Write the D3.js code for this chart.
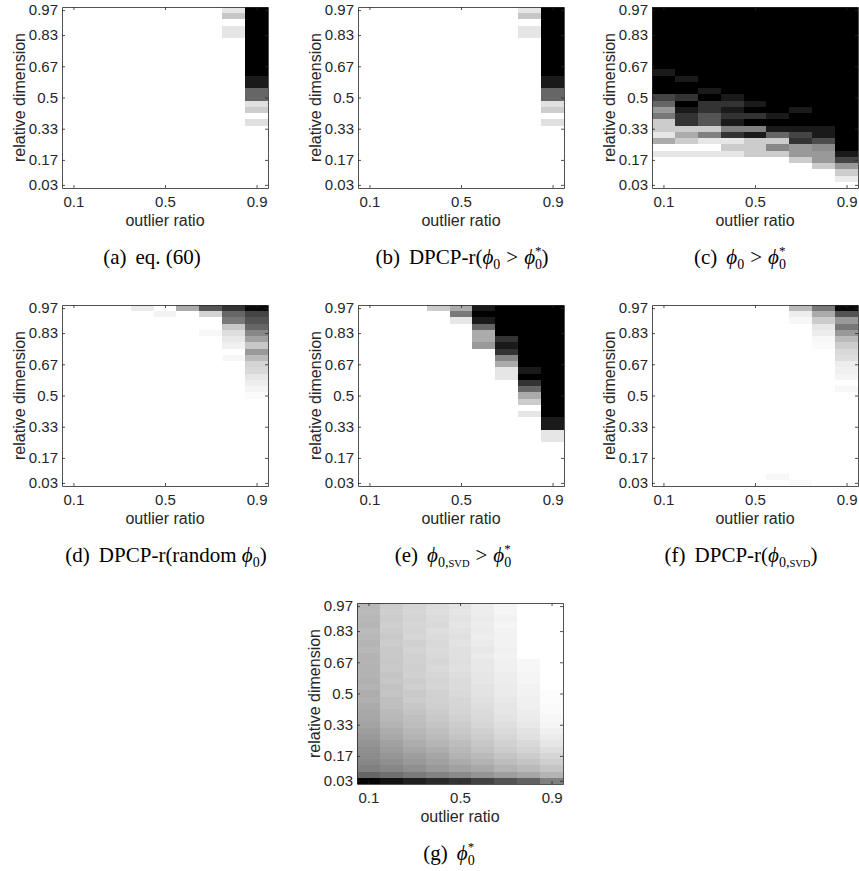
<!DOCTYPE html>
<html>
<head>
<meta charset="utf-8">
<script src="https://cdn.jsdelivr.net/npm/d3@7"></script>
<style>
  body { margin: 0; background: #fff; }
  svg { display: block; }
</style>
</head>
<body>
<div id="figure"></div>
<script>
// outlier ratio (columns) and relative dimension index d of D = 30 (rows)
const ratios = [0.1, 0.2, 0.3, 0.4, 0.5, 0.6, 0.7, 0.8, 0.9]
const dims = [1, 2, 3, 4, 5, 6, 7, 8, 9, 10, 11, 12, 13, 14, 15, 16, 17, 18, 19, 20, 21, 22, 23, 24, 25, 26, 27, 28, 29]
const xTicks = [0.1, 0.5, 0.9]
const xTickLabels = ["0.1", "0.5", "0.9"]
const yTicks = [1, 5, 10, 15, 20, 25, 29]
const yTickLabels = ["0.03", "0.17", "0.33", "0.5", "0.67", "0.83", "0.97"]

// darkness of each cell (0 white, 1 black); rows from d = 29 (top) down to d = 1
const gridA = [
  [0,0,0,0,0,0,0,0.1,1],
  [0,0,0,0,0,0,0,0.22,1],
  [0,0,0,0,0,0,0,0,1],
  [0,0,0,0,0,0,0,0.1,1],
  [0,0,0,0,0,0,0,0.1,1],
  [0,0,0,0,0,0,0,0,1],
  [0,0,0,0,0,0,0,0,1],
  [0,0,0,0,0,0,0,0,1],
  [0,0,0,0,0,0,0,0,1],
  [0,0,0,0,0,0,0,0,1],
  [0,0,0,0,0,0,0,0,1],
  [0,0,0,0,0,0,0,0,0.9],
  [0,0,0,0,0,0,0,0,0.9],
  [0,0,0,0,0,0,0,0,0.6],
  [0,0,0,0,0,0,0,0,0.6],
  [0,0,0,0,0,0,0,0,0.12],
  [0,0,0,0,0,0,0,0,0.2],
  [0,0,0,0,0,0,0,0,0],
  [0,0,0,0,0,0,0,0,0.12],
  [0,0,0,0,0,0,0,0,0],
  [0,0,0,0,0,0,0,0,0],
  [0,0,0,0,0,0,0,0,0],
  [0,0,0,0,0,0,0,0,0],
  [0,0,0,0,0,0,0,0,0],
  [0,0,0,0,0,0,0,0,0],
  [0,0,0,0,0,0,0,0,0],
  [0,0,0,0,0,0,0,0,0],
  [0,0,0,0,0,0,0,0,0],
  [0,0,0,0,0,0,0,0,0]
]

const gridB = [
  [0,0,0,0,0,0,0,0.1,1],
  [0,0,0,0,0,0,0,0.22,1],
  [0,0,0,0,0,0,0,0,1],
  [0,0,0,0,0,0,0,0.1,1],
  [0,0,0,0,0,0,0,0.1,1],
  [0,0,0,0,0,0,0,0,1],
  [0,0,0,0,0,0,0,0,1],
  [0,0,0,0,0,0,0,0,1],
  [0,0,0,0,0,0,0,0,1],
  [0,0,0,0,0,0,0,0,1],
  [0,0,0,0,0,0,0,0,1],
  [0,0,0,0,0,0,0,0,0.9],
  [0,0,0,0,0,0,0,0,0.9],
  [0,0,0,0,0,0,0,0,0.6],
  [0,0,0,0,0,0,0,0,0.6],
  [0,0,0,0,0,0,0,0,0.12],
  [0,0,0,0,0,0,0,0,0.2],
  [0,0,0,0,0,0,0,0,0],
  [0,0,0,0,0,0,0,0,0.12],
  [0,0,0,0,0,0,0,0,0],
  [0,0,0,0,0,0,0,0,0],
  [0,0,0,0,0,0,0,0,0],
  [0,0,0,0,0,0,0,0,0],
  [0,0,0,0,0,0,0,0,0],
  [0,0,0,0,0,0,0,0,0],
  [0,0,0,0,0,0,0,0,0],
  [0,0,0,0,0,0,0,0,0],
  [0,0,0,0,0,0,0,0,0],
  [0,0,0,0,0,0,0,0,0]
]

const gridC = [
  [1,1,1,1,1,1,1,1,1],
  [1,1,1,1,1,1,1,1,1],
  [1,1,1,1,1,1,1,1,1],
  [1,1,1,1,1,1,1,1,1],
  [1,1,1,1,1,1,1,1,1],
  [1,1,1,1,1,1,1,1,1],
  [1,1,1,1,1,1,1,1,1],
  [1,1,1,1,1,1,1,1,1],
  [1,1,1,1,1,1,1,1,1],
  [1,1,1,1,1,1,1,1,1],
  [0.9,1,1,1,1,1,1,1,1],
  [1,0.9,1,1,1,1,1,1,1],
  [1,1,1,1,1,1,1,1,1],
  [1,1,0.9,1,1,1,1,1,1],
  [0.73,0.8,1,0.9,1,1,1,1,1],
  [0.6,1,0.8,0.8,0.9,1,1,1,1],
  [0.4,0.9,0.8,0.9,1,1,0.9,1,1],
  [0.53,0.8,0.67,0.8,0.8,0.9,1,1,1],
  [0.2,0.8,0.67,0.9,1,1,1,1,1],
  [0.2,0.2,0.2,0.5,0.5,0.9,0.9,0.9,1],
  [0.1,0.33,0.5,0.8,0.9,0.6,0.73,0.9,1],
  [0.33,0.2,0.1,0.1,0.2,0.2,0.8,0.7,1],
  [0,0,0,0.2,0.2,0.47,0.4,0.45,1],
  [0.1,0.1,0.1,0.1,0.2,0.2,0.4,0.4,0.9],
  [0,0,0,0,0,0,0.2,0.4,0.73],
  [0,0,0,0,0,0,0,0.2,0.4],
  [0,0,0,0,0,0,0,0,0.2],
  [0,0,0,0,0,0,0,0,0.08],
  [0,0,0,0,0,0,0,0,0]
]

const gridD = [
  [0,0,0,0.08,0,0.33,0.67,0.8,0.96],
  [0,0,0,0,0.05,0,0.17,0.6,0.73],
  [0,0,0,0,0,0,0,0.53,0.67],
  [0,0,0,0,0,0,0,0.22,0.6],
  [0,0,0,0,0,0,0.03,0.13,0.47],
  [0,0,0,0,0,0,0,0.09,0.37],
  [0,0,0,0,0,0,0,0.06,0.22],
  [0,0,0,0,0,0,0,0,0.4],
  [0,0,0,0,0,0,0,0.03,0.27],
  [0,0,0,0,0,0,0,0,0.17],
  [0,0,0,0,0,0,0,0,0.15],
  [0,0,0,0,0,0,0,0,0.1],
  [0,0,0,0,0,0,0,0,0.07],
  [0,0,0,0,0,0,0,0,0.04],
  [0,0,0,0,0,0,0,0,0.02],
  [0,0,0,0,0,0,0,0,0],
  [0,0,0,0,0,0,0,0,0],
  [0,0,0,0,0,0,0,0,0],
  [0,0,0,0,0,0,0,0,0],
  [0,0,0,0,0,0,0,0,0],
  [0,0,0,0,0,0,0,0,0],
  [0,0,0,0,0,0,0,0,0],
  [0,0,0,0,0,0,0,0,0],
  [0,0,0,0,0,0,0,0,0],
  [0,0,0,0,0,0,0,0,0],
  [0,0,0,0,0,0,0,0,0],
  [0,0,0,0,0,0,0,0,0],
  [0,0,0,0,0,0,0,0,0],
  [0,0,0,0,0,0,0,0,0]
]

const gridE = [
  [0,0,0,0.2,0.33,0.9,1,1,1],
  [0,0,0,0,0.53,1,1,1,1],
  [0,0,0,0,0.1,0.9,1,1,1],
  [0,0,0,0,0,0.6,1,1,1],
  [0,0,0,0,0,0.33,1,1,1],
  [0,0,0,0,0,0.33,0.8,1,1],
  [0,0,0,0,0,0.4,0.9,1,1],
  [0,0,0,0,0,0,0.8,1,1],
  [0,0,0,0,0,0,0.47,1,1],
  [0,0,0,0,0,0,0.33,1,1],
  [0,0,0,0,0,0,0.1,0.9,1],
  [0,0,0,0,0,0,0.1,1,1],
  [0,0,0,0,0,0,0,0.8,1],
  [0,0,0,0,0,0,0,0.6,1],
  [0,0,0,0,0,0,0,0.33,1],
  [0,0,0,0,0,0,0,0.2,1],
  [0,0,0,0,0,0,0,0,1],
  [0,0,0,0,0,0,0,0.1,1],
  [0,0,0,0,0,0,0,0,0.9],
  [0,0,0,0,0,0,0,0,0.9],
  [0,0,0,0,0,0,0,0,0.1],
  [0,0,0,0,0,0,0,0,0.1],
  [0,0,0,0,0,0,0,0,0],
  [0,0,0,0,0,0,0,0,0],
  [0,0,0,0,0,0,0,0,0],
  [0,0,0,0,0,0,0,0,0],
  [0,0,0,0,0,0,0,0,0],
  [0,0,0,0,0,0,0,0,0],
  [0,0,0,0,0,0,0,0,0]
]

const gridF = [
  [0,0,0,0,0,0,0.27,0.53,0.96],
  [0,0,0,0,0,0,0.07,0.33,0.67],
  [0,0,0,0,0,0,0.03,0.2,0.4],
  [0,0,0,0,0,0,0,0.1,0.53],
  [0,0,0,0,0,0,0,0.07,0.4],
  [0,0,0,0,0,0,0,0.03,0.27],
  [0,0,0,0,0,0,0,0.02,0.2],
  [0,0,0,0,0,0,0,0,0.15],
  [0,0,0,0,0,0,0,0,0.13],
  [0,0,0,0,0,0,0,0,0.07],
  [0,0,0,0,0,0,0,0,0.06],
  [0,0,0,0,0,0,0,0,0.04],
  [0,0,0,0,0,0,0,0,0],
  [0,0,0,0,0,0,0,0,0.03],
  [0,0,0,0,0,0,0,0,0],
  [0,0,0,0,0,0,0,0,0],
  [0,0,0,0,0,0,0,0,0],
  [0,0,0,0,0,0,0,0,0],
  [0,0,0,0,0,0,0,0,0],
  [0,0,0,0,0,0,0,0,0],
  [0,0,0,0,0,0,0,0,0],
  [0,0,0,0,0,0,0,0,0],
  [0,0,0,0,0,0,0,0,0],
  [0,0,0,0,0,0,0,0,0],
  [0,0,0,0,0,0,0,0,0],
  [0,0,0,0,0,0,0,0,0],
  [0,0,0,0,0,0,0,0,0],
  [0,0,0,0,0,0.03,0,0,0],
  [0,0,0,0,0,0,0.02,0,0]
]

const gridG = [
  [0.28,0.2,0.17,0.14,0.11,0.07,0.04,0,0],
  [0.27,0.19,0.16,0.13,0.1,0.07,0.04,0,0],
  [0.28,0.2,0.17,0.14,0.11,0.08,0.05,0,0],
  [0.29,0.19,0.16,0.15,0.1,0.07,0.04,0,0],
  [0.27,0.2,0.17,0.13,0.11,0.08,0.05,0,0],
  [0.28,0.21,0.16,0.14,0.12,0.07,0.05,0,0],
  [0.29,0.2,0.18,0.15,0.11,0.08,0.05,0,0],
  [0.28,0.21,0.17,0.14,0.12,0.09,0.06,0,0],
  [0.3,0.21,0.18,0.15,0.12,0.08,0.05,0,0],
  [0.29,0.22,0.18,0.16,0.13,0.09,0.06,0.03,0],
  [0.3,0.21,0.19,0.15,0.12,0.09,0.06,0.03,0],
  [0.3,0.23,0.18,0.16,0.13,0.1,0.07,0.04,0],
  [0.31,0.22,0.2,0.17,0.14,0.1,0.07,0.04,0],
  [0.3,0.24,0.19,0.16,0.14,0.11,0.08,0.05,0],
  [0.32,0.23,0.21,0.18,0.15,0.11,0.08,0.05,0.01],
  [0.31,0.25,0.2,0.18,0.16,0.12,0.09,0.06,0.01],
  [0.33,0.25,0.22,0.19,0.16,0.13,0.1,0.06,0.02],
  [0.34,0.27,0.23,0.2,0.17,0.14,0.1,0.07,0.02],
  [0.35,0.28,0.25,0.21,0.18,0.15,0.11,0.08,0.03],
  [0.36,0.3,0.26,0.23,0.2,0.16,0.13,0.09,0.04],
  [0.38,0.32,0.28,0.25,0.21,0.18,0.14,0.11,0.06],
  [0.4,0.34,0.3,0.27,0.23,0.2,0.16,0.12,0.08],
  [0.42,0.37,0.32,0.29,0.26,0.22,0.18,0.15,0.1],
  [0.44,0.39,0.35,0.32,0.28,0.24,0.2,0.17,0.13],
  [0.45,0.41,0.38,0.35,0.3,0.27,0.23,0.2,0.16],
  [0.47,0.44,0.4,0.37,0.33,0.3,0.26,0.23,0.19],
  [0.5,0.47,0.44,0.4,0.37,0.34,0.3,0.27,0.23],
  [0.6,0.56,0.52,0.49,0.46,0.42,0.38,0.35,0.3],
  [0.98,0.93,0.88,0.84,0.8,0.74,0.68,0.62,0.5]
]

// caption pieces: [kind, text, extra gap before]; a "sup" right after a "sub" stacks over it
const captionA = [["rm", "(a)"], ["rm", "eq. (60)", 9]]
const captionB = [["rm", "(b)"], ["rm", "DPCP-r(", 9], ["it", "ϕ"], ["sub", "0"], ["rel", ">", 6], ["it", "ϕ", 6], ["sub", "0"], ["sup", "*"], ["rm", ")"]]
const captionC = [["rm", "(c)"], ["it", "ϕ", 9], ["sub", "0"], ["rel", ">", 6], ["it", "ϕ", 6], ["sub", "0"], ["sup", "*"]]
const captionD = [["rm", "(d)"], ["rm", "DPCP-r(random ", 9], ["it", "ϕ"], ["sub", "0"], ["rm", ")"]]
const captionE = [["rm", "(e)"], ["it", "ϕ", 9], ["sub", "0,"], ["sc", "SVD"], ["rel", ">", 6], ["it", "ϕ", 6], ["sub", "0"], ["sup", "*"]]
const captionF = [["rm", "(f)"], ["rm", "DPCP-r(", 9], ["it", "ϕ"], ["sub", "0,"], ["sc", "SVD"], ["rm", ")"]]
const captionG = [["rm", "(g)"], ["it", "ϕ", 9], ["sub", "0"], ["sup", "*"]]

// layout of the seven panels (plot area origin, caption centre)
const panels = [
  {grid: gridA, caption: captionA, left: 62, top: 7, capX: 152},
  {grid: gridB, caption: captionB, left: 358, top: 7, capX: 462},
  {grid: gridC, caption: captionC, left: 652, top: 7, capX: 740},
  {grid: gridD, caption: captionD, left: 62, top: 305, capX: 166},
  {grid: gridE, caption: captionE, left: 358, top: 305, capX: 453},
  {grid: gridF, caption: captionF, left: 652, top: 305, capX: 741},
  {grid: gridG, caption: captionG, left: 357, top: 603, capX: 449}
]

const width = 859
const height = 871
const plotW = 206
const plotH = 181
const axisColor = "#262626"
const sansFont = "'Liberation Sans', Arial, Helvetica, sans-serif"
const serifFont = "'Liberation Serif', 'Times New Roman', 'DejaVu Serif', serif"
const capSize = 21

const svg = d3.select("#figure").append("svg")
    .attr("width", width)
    .attr("height", height)

const x = d3.scaleBand().domain(ratios).range([0, plotW]).padding(0)
const y = d3.scaleBand().domain(dims).range([plotH, 0]).padding(0)
const gray = d3.scaleLinear().domain([0, 1]).range(["#ffffff", "#000000"])

function addCaption(sel, parts) {
  const text = sel.append("text")
      .attr("text-anchor", "middle")
      .attr("font-family", serifFont)
      .attr("font-size", capSize)
      .attr("fill", "#000")
  let shift = 0
  let lastSubWidth = 0
  parts.forEach(([kind, str, gap]) => {
    let target = 0, size = capSize, style = "normal", dx = gap || 0
    if (kind === "it") style = "italic"
    if (kind === "sub") { target = 5; size = 14 }
    if (kind === "sc") { target = 5; size = 10.5 }
    if (kind === "sup") { target = -9; size = 13; dx = -lastSubWidth }
    const t = text.append("tspan")
        .attr("dx", dx)
        .attr("dy", target - shift)
        .attr("font-size", size)
        .attr("font-style", style)
        .text(str)
    if (kind === "sub") lastSubWidth = t.node().getComputedTextLength()
    shift = target
  })
}

panels.forEach(p => {
  const g = svg.append("g").attr("transform", `translate(${p.left},${p.top})`)

  // heatmap cells
  const cells = []
  p.grid.forEach((row, i) => {
    const d = dims[dims.length - 1 - i]
    row.forEach((v, j) => cells.push({ratio: ratios[j], dim: d, value: v}))
  })
  g.append("g")
      .attr("shape-rendering", "crispEdges")
    .selectAll("rect")
    .data(cells)
    .join("rect")
      .attr("x", c => x(c.ratio))
      .attr("y", c => y(c.dim))
      .attr("width", x.bandwidth())
      .attr("height", y.bandwidth())
      .attr("fill", c => gray(c.value))

  // axes box with inward ticks (MATLAB style)
  const xLin = d3.scaleLinear().domain([0.05, 0.95]).range([0, plotW])
  const yLin = d3.scaleLinear().domain([0.5, 29.5]).range([plotH, 0])

  const bottom = g.append("g").attr("transform", `translate(0,${plotH})`)
      .call(d3.axisBottom(xLin).tickValues(xTicks).tickSizeInner(-3).tickSizeOuter(0).tickPadding(8)
        .tickFormat((d, i) => xTickLabels[i]))
  const top = g.append("g")
      .call(d3.axisTop(xLin).tickValues(xTicks).tickSizeInner(-3).tickSizeOuter(0))
  const left = g.append("g")
      .call(d3.axisLeft(yLin).tickValues(yTicks).tickSizeInner(-3).tickSizeOuter(0).tickPadding(4)
        .tickFormat((d, i) => yTickLabels[i]))
  const right = g.append("g").attr("transform", `translate(${plotW},0)`)
      .call(d3.axisRight(yLin).tickValues(yTicks).tickSizeInner(-3).tickSizeOuter(0))
  top.selectAll("text").remove()
  right.selectAll("text").remove()

  ;[bottom, top, left, right].forEach(a => {
    a.selectAll("path, line").attr("stroke", axisColor).attr("stroke-width", 0.8)
    a.selectAll("text")
        .attr("font-family", sansFont)
        .attr("font-size", 15)
        .attr("fill", axisColor)
  })

  g.append("text")
      .attr("x", plotW / 2)
      .attr("y", plotH + 38)
      .attr("text-anchor", "middle")
      .attr("font-family", sansFont)
      .attr("font-size", 16)
      .attr("fill", axisColor)
      .text("outlier ratio")

  g.append("text")
      .attr("transform", `translate(-37,${plotH / 2}) rotate(-90)`)
      .attr("text-anchor", "middle")
      .attr("font-family", sansFont)
      .attr("font-size", 16)
      .attr("fill", axisColor)
      .text("relative dimension")

  addCaption(svg.append("g").attr("transform", `translate(${p.capX},${p.top + 257})`), p.caption)
})
</script>
</body>
</html>
